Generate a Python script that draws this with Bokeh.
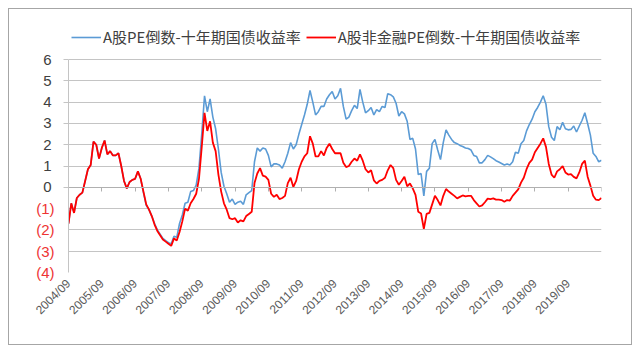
import math
from bokeh.plotting import figure
from bokeh.models import (Range1d, FixedTicker, LinearAxis, Legend, LegendItem,
                          ColumnDataSource)
from bokeh.embed import file_html
from bokeh.resources import INLINE

# ---- data (monthly, 2004/09 .. 2020/09) ----
tick_labels = ["2004/09", "2005/09", "2006/09", "2007/09", "2008/09", "2009/09",
               "2010/09", "2011/09", "2012/09", "2013/09", "2014/09", "2015/09",
               "2016/09", "2017/09", "2018/09", "2019/09"]

series_all_name = "A股PE倒数-十年期国债收益率"
series_nonfin_name = "A股非金融PE倒数-十年期国债收益率"

pe_all = [
    -1.70, -0.75, -1.20, -0.50, -0.35, -0.25, 0.30, 0.85, 1.05, 2.15,
    2.00, 1.35, 1.85, 2.20, 1.55, 1.70, 1.50, 1.50, 1.60, 1.00,
    0.30, -0.05, 0.25, 0.35, 0.40, 0.75, 0.40, -0.25, -0.85, -1.05,
    -1.35, -1.70, -2.00, -2.20, -2.40, -2.50, -2.60, -2.65, -2.30, -2.35,
    -1.70, -1.30, -0.75, -0.70, -0.20, -0.15, 0.10, 0.90, 2.50, 4.30,
    3.55, 4.15, 3.30, 2.75, 1.80, 0.70, 0.05, -0.30, -0.70, -0.55,
    -0.80, -0.70, -0.65, -0.80, -0.35, -0.25, -0.15, 1.20, 1.85, 1.70,
    1.85, 1.80, 1.50, 0.96, 1.10, 1.10, 1.05, 0.90, 1.20, 1.60,
    2.10, 1.80, 2.00, 2.50, 2.95, 3.40, 3.90, 4.55, 4.00, 3.40,
    3.55, 3.80, 3.80, 4.15, 4.35, 4.50, 4.15, 4.30, 4.65, 3.80,
    3.20, 3.30, 3.60, 3.85, 3.70, 4.60, 4.00, 3.50, 3.60, 3.75,
    3.40, 3.65, 3.55, 3.80, 3.75, 4.40, 4.35, 4.25, 3.95, 3.35,
    3.55, 3.45, 3.10, 2.25, 2.30, 1.80, 0.60, 0.65, -0.40, 0.75,
    0.90, 2.05, 2.25, 1.75, 1.30, 2.10, 2.70, 2.45, 2.25, 2.10,
    2.05, 1.97, 1.92, 1.85, 1.82, 1.75, 1.50, 1.45, 1.15, 1.15,
    1.30, 1.50, 1.43, 1.35, 1.25, 1.19, 1.12, 1.05, 1.10, 1.05,
    1.20, 1.65, 1.60, 2.05, 2.20, 2.65, 2.95, 3.20, 3.55, 3.75,
    4.00, 4.30, 3.90, 2.85, 2.35, 2.20, 2.85, 2.70, 3.05, 2.75,
    2.70, 2.72, 2.88, 2.60, 2.88, 3.15, 3.50, 3.00, 2.45, 1.60,
    1.45, 1.20, 1.27,
]

pe_nonfin = [
    -1.70, -0.75, -1.20, -0.50, -0.35, -0.25, 0.30, 0.85, 1.05, 2.15,
    2.00, 1.35, 1.85, 2.20, 1.55, 1.70, 1.50, 1.50, 1.60, 1.00,
    0.30, -0.05, 0.25, 0.35, 0.40, 0.75, 0.40, -0.20, -0.80, -1.05,
    -1.35, -1.75, -2.05, -2.25, -2.45, -2.55, -2.65, -2.75, -2.40, -2.50,
    -2.10, -1.60, -1.00, -1.10, -0.75, -0.55, -0.30, 0.40, 1.90, 3.50,
    2.65, 3.10, 2.10, 1.70, 0.60, -0.20, -0.75, -1.05, -1.45, -1.50,
    -1.45, -1.65, -1.55, -1.60, -1.35, -1.25, -1.15, 0.20, 0.65, 0.90,
    0.55, 0.50, 0.35, -0.30, -0.45, -0.35, -0.55, -0.50, -0.40, 0.20,
    0.45, 0.02, 0.30, 0.85, 1.20, 1.45, 1.60, 2.40, 2.05, 1.45,
    1.45, 1.70, 1.50, 1.85, 2.05, 1.80, 1.60, 1.60, 1.60, 1.15,
    0.95, 1.00, 1.20, 1.35, 1.25, 1.55, 1.25, 0.85, 0.70, 0.80,
    0.33, 0.18, 0.30, 0.35, 0.45, 0.80, 1.05, 0.90, 0.35, 0.12,
    0.30, 0.50, 0.05, 0.18, -0.05, -0.35, -1.15, -1.23, -1.95, -1.25,
    -1.20, -0.80, -0.40, -0.60, -0.85, -0.40, -0.08, -0.20, -0.30, -0.40,
    -0.52, -0.45, -0.38, -0.42, -0.40, -0.40, -0.60, -0.75, -0.90, -0.85,
    -0.70, -0.53, -0.55, -0.52, -0.58, -0.58, -0.60, -0.68, -0.60, -0.62,
    -0.40, -0.25, -0.10, 0.22, 0.45, 0.85, 1.15, 1.30, 1.65, 1.85,
    2.05, 2.30, 1.90, 1.10, 0.60, 0.45, 0.75, 0.85, 1.00, 0.70,
    0.60, 0.62, 0.49, 0.42, 0.70, 1.10, 1.25, 0.50, 0.08, -0.40,
    -0.58, -0.60, -0.50,
]

months = list(range(len(pe_all)))  # month index since 2004/09
year_ticks = [12 * i for i in range(len(tick_labels))]
pos_ticks = [0, 1, 2, 3, 4, 5, 6]
neg_ticks = [-4, -3, -2, -1]
y_lo, y_hi = -4, 6

GRID = "#c4c4c4"

# frame is extended upward (to 7.6) so the legend can sit inside it above the gridded area
p = figure(width=640, height=353, output_backend="svg", toolbar_location=None,
           x_range=Range1d(0, months[-1]), y_range=Range1d(y_lo, 7.6),
           min_border_left=68, min_border_right=39, min_border_top=25,
           min_border_bottom=81,
           styles={"outline": "1.5px solid #a6a6a6", "outline-offset": "-9px",
                   "border-radius": "3px"})
p.outline_line_color = None
p.background_fill_color = "white"
p.border_fill_color = None

# grid
p.xgrid.visible = False
p.ygrid.ticker = FixedTicker(ticks=neg_ticks + pos_ticks)
p.ygrid.grid_line_color = GRID
p.ygrid.grid_line_width = 1.2

# inner left axis: positive labels (dark), tick marks
ya = p.yaxis[0]
ya.ticker = FixedTicker(ticks=pos_ticks)
ya.bounds = (y_lo, y_hi)
ya.axis_line_color = GRID
ya.major_tick_line_color = GRID
ya.major_tick_in = 0
ya.major_tick_out = 5
ya.minor_tick_line_color = None
ya.major_label_standoff = 12
ya.major_label_text_font = "Liberation Sans"
ya.major_label_text_font_size = "15px"
ya.major_label_text_color = "#404040"

# outer left axis: red labels in parentheses for negatives, pulled in toward the frame
yneg = LinearAxis(ticker=FixedTicker(ticks=neg_ticks), bounds=(y_lo, y_hi),
                  major_label_overrides={t: "(%d)" % abs(t) for t in neg_ticks})
yneg.axis_line_color = None
yneg.major_tick_line_color = None
yneg.major_tick_in = 0
yneg.major_tick_out = 0
yneg.minor_tick_line_color = None
yneg.major_label_standoff = -14
yneg.major_label_text_font = "Liberation Sans"
yneg.major_label_text_font_size = "15px"
yneg.major_label_text_color = "#ee3333"
p.add_layout(yneg, "left")

# bottom axis with rotated date labels
xa = p.xaxis[0]
xa.ticker = FixedTicker(ticks=year_ticks)
xa.major_label_overrides = {t: lab for t, lab in zip(year_ticks, tick_labels)}
xa.major_label_orientation = math.pi / 4
xa.axis_line_color = None
xa.major_tick_line_color = None
xa.major_tick_out = 0
xa.major_tick_in = 0
xa.minor_tick_line_color = None
xa.major_label_standoff = 9
xa.major_label_text_font = "Liberation Sans"
xa.major_label_text_font_size = "12px"
xa.major_label_text_color = "#595959"

# zero-line axis with year tick marks
xzero = LinearAxis(ticker=FixedTicker(ticks=year_ticks + [months[-1]]), fixed_location=0)
xzero.axis_line_color = "#b0b0b0"
xzero.major_tick_line_color = "#b0b0b0"
xzero.major_tick_in = 0
xzero.major_tick_out = 4
xzero.minor_tick_line_color = None
xzero.major_label_text_color = None
xzero.major_label_text_font_size = "1px"
p.add_layout(xzero, "below")

src = ColumnDataSource(dict(m=months, a=pe_all, n=pe_nonfin))
rb = p.line("m", "a", source=src, line_color="#5B9BD5", line_width=1.6)
rr = p.line("m", "n", source=src, line_color="#FF0000", line_width=1.8)

legend = Legend(items=[LegendItem(label=series_all_name, renderers=[rb]),
                       LegendItem(label=series_nonfin_name, renderers=[rr])],
                orientation="horizontal", location=(3, 225),
                border_line_color=None, background_fill_alpha=0,
                padding=0, margin=0, spacing=5, label_standoff=2,
                glyph_width=30, glyph_height=20, label_height=20,
                label_text_font="Noto Sans CJK SC", label_text_font_size="15px",
                label_text_color="#404040")
p.add_layout(legend, "center")

open("out.html", "w").write(file_html(p, INLINE))
